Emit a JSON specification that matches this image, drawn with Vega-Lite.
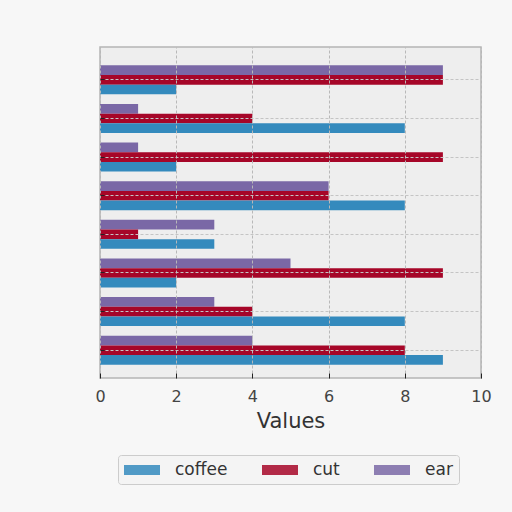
{
  "$schema": "https://vega.github.io/schema/vega-lite/v6.json",
  "autosize": "none",
  "width": 381,
  "height": 331,
  "padding": {"left": 100, "top": 47, "right": 31, "bottom": 134},
  "background": "#f7f7f7",
  "config": {
    "view": {"fill": "#eeeeee", "stroke": "#b5b5b5", "strokeWidth": 1.5},
    "font": "DejaVu Sans",
    "axis": {"zindex": 1, "gridColor": "#b8b8b8", "gridDash": [3, 2], "gridWidth": 1, "domain": false}
  },
  "data": {
    "values": [
      {"group": "A", "series": "ear", "value": 9},
      {"group": "A", "series": "cut", "value": 9},
      {"group": "A", "series": "coffee", "value": 2},
      {"group": "B", "series": "ear", "value": 1},
      {"group": "B", "series": "cut", "value": 4},
      {"group": "B", "series": "coffee", "value": 8},
      {"group": "C", "series": "ear", "value": 1},
      {"group": "C", "series": "cut", "value": 9},
      {"group": "C", "series": "coffee", "value": 2},
      {"group": "D", "series": "ear", "value": 6},
      {"group": "D", "series": "cut", "value": 6},
      {"group": "D", "series": "coffee", "value": 8},
      {"group": "E", "series": "ear", "value": 3},
      {"group": "E", "series": "cut", "value": 1},
      {"group": "E", "series": "coffee", "value": 3},
      {"group": "F", "series": "ear", "value": 5},
      {"group": "F", "series": "cut", "value": 9},
      {"group": "F", "series": "coffee", "value": 2},
      {"group": "G", "series": "ear", "value": 3},
      {"group": "G", "series": "cut", "value": 4},
      {"group": "G", "series": "coffee", "value": 8},
      {"group": "H", "series": "ear", "value": 4},
      {"group": "H", "series": "cut", "value": 8},
      {"group": "H", "series": "coffee", "value": 9}
    ]
  },
  "mark": {"type": "bar"},
  "encoding": {
    "y": {
      "field": "group",
      "type": "nominal",
      "sort": ["A", "B", "C", "D", "E", "F", "G", "H"],
      "scale": {"paddingInner": 0.25, "paddingOuter": 0.41, "align": 0.58},
      "axis": {"labels": false, "title": null, "ticks": true, "tickSize": -4, "tickColor": "#222222", "grid": true, "gridColor": "#c4c4c4", "zindex": 1}
    },
    "yOffset": {
      "field": "series",
      "type": "nominal",
      "sort": ["ear", "cut", "coffee"],
      "scale": {"paddingInner": 0, "paddingOuter": 0}
    },
    "x": {
      "field": "value",
      "type": "quantitative",
      "scale": {"domain": [0, 10], "nice": false},
      "axis": {
        "values": [0, 2, 4, 6, 8, 10],
        "zindex": 1,
        "labelFlush": false,
        "title": "Values",
        "titleFont": "DejaVu Sans",
        "titleFontSize": 21,
        "titleFontWeight": "normal",
        "titleColor": "#333333",
        "titlePadding": 6,
        "labelFontSize": 16,
        "labelColor": "#444444",
        "labelPadding": 15,
        "tickSize": -5,
        "tickColor": "#222222",
        "grid": true
      }
    },
    "color": {
      "field": "series",
      "type": "nominal",
      "scale": {"domain": ["coffee", "cut", "ear"], "range": ["#348ABD", "#A60628", "#7A68A6"]},
      "legend": {
        "orient": "none",
        "legendX": 18,
        "legendY": 408,
        "direction": "horizontal",
        "columns": 3,
        "title": null,
        "symbolType": "M-1,-0.56H3V0.56H-1Z",
        "symbolSize": 324,
        "symbolOpacity": 0.85,
        "symbolStrokeWidth": 0,
        "labelFontSize": 17,
        "labelColor": "#333333",
        "labelOffset": 33,
        "columnPadding": 34,
        "padding": 6,
        "fillColor": "#f4f4f4",
        "strokeColor": "#cccccc",
        "cornerRadius": 3
      }
    }
  }
}
